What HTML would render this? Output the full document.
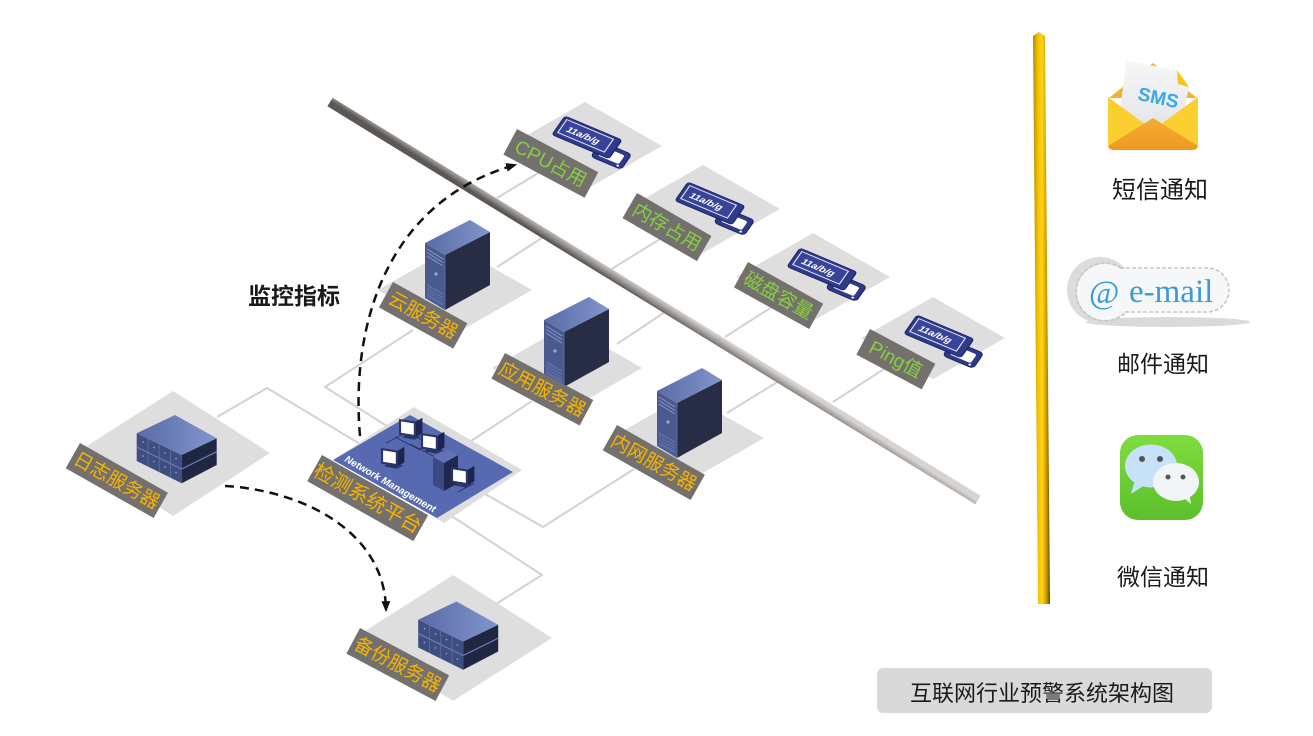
<!DOCTYPE html>
<html><head><meta charset="utf-8"><style>
html,body{margin:0;padding:0;background:#fff;}
svg{display:block;}
.lb{font-family:"Liberation Sans","Noto Sans CJK SC",sans-serif;font-size:19px;}
.g{fill:#86d03f;}
.y{fill:#f5b400;}
.bk{font-family:"Liberation Sans","Noto Sans CJK SC",sans-serif;fill:#1a1a1a;}
</style></head><body>
<svg width="1313" height="736" viewBox="0 0 1313 736" xmlns="http://www.w3.org/2000/svg">
<defs>
<linearGradient id="barG" gradientUnits="userSpaceOnUse" x1="657" y1="296.3" x2="651" y2="305.7">
<stop offset="0" stop-color="#d6d3d0"/><stop offset="0.35" stop-color="#b1aeab"/><stop offset="0.7" stop-color="#86837f"/><stop offset="1" stop-color="#5a5754"/></linearGradient>
<linearGradient id="goldG" x1="0" y1="0" x2="1" y2="0">
<stop offset="0" stop-color="#b58a00"/><stop offset="0.3" stop-color="#f5c400"/><stop offset="0.55" stop-color="#ffd21a"/><stop offset="0.8" stop-color="#c89a00"/><stop offset="1" stop-color="#5e4700"/></linearGradient>
<linearGradient id="topG" x1="0" y1="0" x2="1" y2="0"><stop offset="0" stop-color="#5a6ba5"/><stop offset="1" stop-color="#8195cd"/></linearGradient>
<linearGradient id="wcG" x1="0" y1="0" x2="0" y2="1"><stop offset="0" stop-color="#7fdc3e"/><stop offset="1" stop-color="#5cc02c"/></linearGradient>
<linearGradient id="flapG" x1="0" y1="0" x2="0" y2="1"><stop offset="0" stop-color="#f5ab33"/><stop offset="1" stop-color="#ee9a22"/></linearGradient>
<linearGradient id="paperG" x1="0" y1="0" x2="0" y2="1"><stop offset="0" stop-color="#f6f7f8"/><stop offset="1" stop-color="#e2e4e6"/></linearGradient>
<marker id="ah" viewBox="0 0 10 10" refX="8" refY="5" markerWidth="11" markerHeight="11" markerUnits="userSpaceOnUse" orient="auto"><path d="M0,1 L10,5 L0,9 z" fill="#111"/></marker>
<g id="tower">
<polygon points="425,243 445,255 445,310 425,298" fill="#4a5a8e"/>
<polygon points="445,255 490,232 490,285 445,310" fill="#262d44"/>
<polygon points="425,243 470,220 490,232 445,255" fill="url(#topG)"/>
<g stroke="#8797c8" stroke-width="1"><line x1="427" y1="249" x2="443" y2="259"/><line x1="427" y1="252.5" x2="443" y2="262.5"/><line x1="427" y1="256" x2="443" y2="266"/></g>
<circle cx="436" cy="274" r="1.6" fill="#9aaad8"/>
<polygon points="427,284 443,293 443,306 427,297" fill="#5a6ca2"/>
<g stroke="#3e4d80" stroke-width="0.7"><line x1="427" y1="287" x2="443" y2="296"/><line x1="427" y1="290" x2="443" y2="299"/><line x1="427" y1="293" x2="443" y2="302"/></g>
<line x1="445" y1="255" x2="445" y2="310" stroke="#6274ac" stroke-width="0.8"/>
</g>
<g id="rack">
<polygon points="136.7,433.3 181.7,455 181.7,483.3 136.7,461" fill="#3f4e80"/>
<polygon points="181.7,455 216.7,438.3 216.7,465 181.7,483.3" fill="#1f2742"/>
<polygon points="136.7,433.3 175,415 216.7,438.3 181.7,455" fill="url(#topG)"/>
<g stroke="#6a7fbb" stroke-width="1.2"><line x1="136.7" y1="447" x2="181.7" y2="469"/><line x1="181.7" y1="469" x2="216.7" y2="451.7"/></g>
<g stroke="#5e71a8" stroke-width="0.8"><line x1="148" y1="439" x2="148" y2="466.5"/><line x1="159.2" y1="444.5" x2="159.2" y2="472"/><line x1="170.5" y1="450" x2="170.5" y2="477.8"/></g>
<g fill="#9fb0e0"><circle cx="143" cy="442" r="0.8"/><circle cx="154" cy="447.5" r="0.8"/><circle cx="165" cy="453" r="0.8"/><circle cx="176" cy="458.5" r="0.8"/><circle cx="143" cy="456" r="0.8"/><circle cx="154" cy="461.5" r="0.8"/><circle cx="165" cy="467" r="0.8"/><circle cx="176" cy="472.5" r="0.8"/></g>
</g>
<g id="mon">
<polygon points="13,2 18,-1 18,11 13,14" fill="#1c2450"/>
<polygon points="0,0 13,2 13,14 0,12" fill="#2a3468"/>
<polygon points="1.6,1.8 11.4,3.4 11.4,12.2 1.6,10.6" fill="#ffffff"/>
<polygon points="2,14 12,16 17,13.5 7,11.5" fill="#2a3468"/>
</g>
<g id="card">
<rect x="44" y="11" width="32" height="21" rx="4" fill="#2f3a8a" stroke="#1a2160"/>
<rect x="49" y="15.5" width="22" height="12" rx="2" fill="#fff"/>
<circle cx="71" cy="29.5" r="1.2" fill="#fff"/>
<rect x="0" y="0" width="60" height="26" rx="3" fill="#2f3a8a" stroke="#1a2160"/>
<rect x="3.5" y="3" width="49" height="18" fill="#38449a" stroke="#e9ecff" stroke-width="1.1"/>
</g>
</defs>

<!-- gray connector lines -->
<g stroke="#d2d2d2" stroke-width="2" fill="none">
<line x1="497" y1="198" x2="545" y2="169"/>
<line x1="497" y1="267" x2="545" y2="236"/>
<line x1="610" y1="270" x2="660" y2="239"/>
<line x1="617" y1="344" x2="665" y2="312"/>
<line x1="725" y1="337" x2="772" y2="307"/>
<line x1="727" y1="413" x2="779" y2="381"/>
<line x1="833" y1="402" x2="884" y2="369"/>
<polyline points="413,330 325,387 390,428"/>
<polyline points="217,417 267,388 360,444"/>
<line x1="465" y1="445" x2="532" y2="401"/>
<polyline points="480,491 543,527 634,469"/>
<polyline points="450,515 542,575 496,604"/>
</g>

<!-- diamonds -->
<g fill="#dedede">
<polygon points="585,102 662,146 585,190 508,146"/>
<polygon points="703,165 780,209 703,253 626,209"/>
<polygon points="813,233 890,277 813,321 736,277"/>
<polygon points="933,297 1005,338 933,379 861,338"/>
<polygon points="455,246 532,290 455,334 378,290"/>
<polygon points="567,325 642,368 567,411 492,368"/>
<polygon points="687,395 764,438 687,482 610,438"/>
<polygon points="173,391 270,453 173,516 76,453"/>
<polygon points="453,575 552,638 453,701 354,638"/>
<polygon points="414,407 522,470 444,523 336,458"/>
</g>

<!-- main bus bar -->
<polygon points="332.6,97.7 980.6,495.7 975.4,504.3 327.4,106.3" fill="url(#barG)"/>

<!-- network platform -->
<polygon points="410,415 513,472 437,518 333,460" fill="#5769b1"/>
<g stroke="#27305e" stroke-width="0.8" fill="none">
<polyline points="386,443 407,432 445,452"/>
<polyline points="410,444 433,456 455,467"/>
<line x1="420" y1="449" x2="434" y2="442"/>
<line x1="458" y1="492" x2="474" y2="483"/>
<line x1="395" y1="437" x2="420" y2="450"/>
</g>
<use href="#mon" transform="translate(399,419) scale(1.3)"/>
<use href="#mon" transform="translate(421,433) scale(1.3)"/>
<use href="#mon" transform="translate(381,448) scale(1.3)"/>
<polygon points="433,457 444,463 444,491 433,485" fill="#3b4a85"/>
<polygon points="444,463 458,455 458,483 444,491" fill="#1f2850"/>
<polygon points="433,457 447,449 458,455 444,463" fill="#6172b5"/>
<use href="#mon" transform="translate(451,467) scale(1.3)"/>
<text transform="translate(344,461) rotate(30)" font-family="Liberation Sans, sans-serif" font-size="10" font-style="italic" font-weight="bold" fill="#ffffff">Network Management</text>

<!-- towers & racks -->
<use href="#tower"/>
<use href="#tower" transform="translate(119,77)"/>
<use href="#tower" transform="translate(232,148)"/>
<use href="#rack"/>
<use href="#rack" transform="translate(281.5,186.5)"/>

<!-- wireless cards -->
<g transform="matrix(0.95,0.40,-0.5,0.72,565,116)">
<use href="#card"/>
<text x="9" y="16" font-family="Liberation Sans, sans-serif" font-size="10" font-style="italic" font-weight="bold" fill="#fff">11a/b/g</text>
</g>
<g transform="matrix(0.95,0.40,-0.5,0.72,688,182)">
<use href="#card"/>
<text x="9" y="16" font-family="Liberation Sans, sans-serif" font-size="10" font-style="italic" font-weight="bold" fill="#fff">11a/b/g</text>
</g>
<g transform="matrix(0.95,0.40,-0.5,0.72,800,248)">
<use href="#card"/>
<text x="9" y="16" font-family="Liberation Sans, sans-serif" font-size="10" font-style="italic" font-weight="bold" fill="#fff">11a/b/g</text>
</g>
<g transform="matrix(0.95,0.40,-0.5,0.72,917,315)">
<use href="#card"/>
<text x="9" y="16" font-family="Liberation Sans, sans-serif" font-size="10" font-style="italic" font-weight="bold" fill="#fff">11a/b/g</text>
</g>

<!-- labels -->
<g class="lb">
<g transform="translate(517,129) rotate(28)"><rect width="92" height="29" fill="#73706d"/><text x="46" y="21" text-anchor="middle" class="g">CPU占用</text></g>
<g transform="translate(637,193) rotate(30)"><rect width="86" height="29" fill="#73706d"/><text x="43" y="21" text-anchor="middle" class="g">内存占用</text></g>
<g transform="translate(748,262) rotate(29)"><rect width="86" height="29" fill="#73706d"/><text x="43" y="21" text-anchor="middle" class="g">磁盘容量</text></g>
<g transform="translate(870,329) rotate(28)"><rect width="74" height="29" fill="#73706d"/><text x="37" y="21" text-anchor="middle" class="g">Ping值</text></g>
<g transform="translate(393,282) rotate(29)"><rect width="85" height="29" fill="#73706d"/><text x="42.5" y="21" text-anchor="middle" class="y">云服务器</text></g>
<g transform="translate(505,353) rotate(28)"><rect width="100" height="29" fill="#73706d"/><text x="50" y="21" text-anchor="middle" class="y">应用服务器</text></g>
<g transform="translate(617,425) rotate(29.5)"><rect width="101" height="29" fill="#73706d"/><text x="50.5" y="21" text-anchor="middle" class="y">内网服务器</text></g>
<g transform="translate(322,455) rotate(29.5)"><rect width="122" height="30" fill="#73706d"/><text x="61" y="22" text-anchor="middle" class="y" font-size="20">检测系统平台</text></g>
<g transform="translate(80,443) rotate(29.5)"><rect width="101" height="29" fill="#73706d"/><text x="50.5" y="21" text-anchor="middle" class="y">日志服务器</text></g>
<g transform="translate(360,628) rotate(28)"><rect width="101" height="29" fill="#73706d"/><text x="50.5" y="21" text-anchor="middle" class="y">备份服务器</text></g>
</g>

<!-- dashed arrows -->
<path d="M360,436 C350,320 390,200 515,165" fill="none" stroke="#111" stroke-width="2.5" stroke-dasharray="9 6" marker-end="url(#ah)"/>
<path d="M225,486 C300,490 385,530 386,610" fill="none" stroke="#111" stroke-width="2.5" stroke-dasharray="9 6" marker-end="url(#ah)"/>

<text x="248" y="304" class="bk" font-size="23" font-weight="bold">监控指标</text>

<!-- gold bar -->
<polygon points="1033,36 1039,32 1045,36 1050,604 1038,604" fill="url(#goldG)"/>

<!-- SMS icon -->
<polygon points="1109,98 1153,63 1197,98" fill="#f4b035"/>
<polygon points="1127,61 1177,70 1189,87 1180,132 1118,122" fill="url(#paperG)"/>
<polygon points="1177,70 1189,87 1178,84" fill="#f5c518"/>
<text transform="translate(1157,104) rotate(12)" text-anchor="middle" font-family="Liberation Sans, sans-serif" font-size="19" font-weight="bold" fill="#3aa8e4">SMS</text>
<path d="M1108,97 L1153,130 L1198,97 L1198,144 Q1198,150 1192,150 L1114,150 Q1108,150 1108,144 Z" fill="#f9d030"/>
<path d="M1108,146 L1153,118 L1198,146 Q1197,150 1192,150 L1114,150 Q1109,150 1108,146 Z" fill="url(#flapG)"/>
<text x="1160" y="198" text-anchor="middle" class="bk" font-size="24">短信通知</text>

<!-- email badge -->
<ellipse cx="1168" cy="322" rx="82" ry="5" fill="#dadada"/>
<circle cx="1100" cy="290" r="33" fill="#dcdcdc"/>
<g fill="none" stroke="#c6c6c6" stroke-width="1.6" stroke-dasharray="4 2">
<circle cx="1105" cy="292" r="29"/>
<rect x="1092" y="268" width="137" height="44" rx="22"/>
</g>
<circle cx="1105" cy="292" r="28" fill="#f5f7f8"/>
<rect x="1093" y="269" width="135" height="42" rx="21" fill="#f5f7f8"/>
<text x="1089" y="303" font-family="Liberation Serif, serif" font-size="33" fill="#3b9bd8">@</text>
<text x="1129" y="302" font-family="Liberation Serif, serif" font-size="33" fill="#3b9bd8">e-mail</text>
<text x="1163" y="372" text-anchor="middle" class="bk" font-size="23">邮件通知</text>

<!-- WeChat icon -->
<rect x="1120" y="435" width="83" height="85" rx="18" fill="url(#wcG)"/>
<ellipse cx="1151" cy="466" rx="26" ry="21.5" fill="#c6e1f8"/>
<polygon points="1135,480 1131,494 1145,485" fill="#c6e1f8"/>
<circle cx="1142" cy="459" r="3" fill="#555"/>
<circle cx="1160" cy="459" r="3" fill="#555"/>
<ellipse cx="1176" cy="482" rx="23" ry="19" fill="#f2f5f8"/>
<polygon points="1183,497 1191,504 1189,492" fill="#f2f5f8"/>
<circle cx="1168" cy="477" r="2.5" fill="#555"/>
<circle cx="1183" cy="477" r="2.5" fill="#555"/>
<text x="1163" y="585" text-anchor="middle" class="bk" font-size="23">微信通知</text>

<!-- title box -->
<rect x="877" y="668" width="335" height="45" rx="6" fill="#d9d9d9"/>
<text x="1042" y="701" text-anchor="middle" class="bk" font-size="22">互联网行业预警系统架构图</text>
</svg>
</body></html>
